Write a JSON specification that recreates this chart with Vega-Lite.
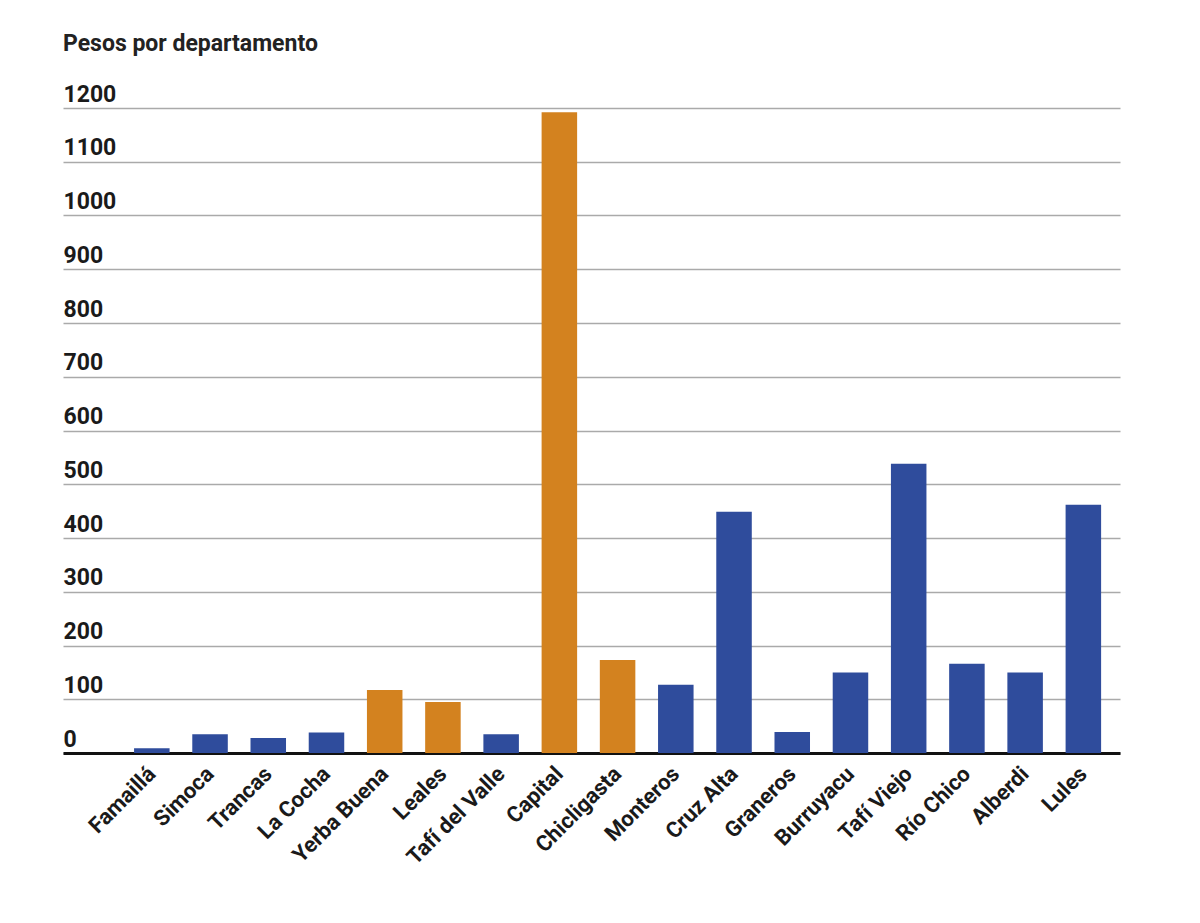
{
  "$schema": "https://vega.github.io/schema/vega-lite/v6.json",
  "autosize": {"type": "none"},
  "padding": {"left": 63, "top": 108, "right": 80, "bottom": 170},
  "width": 1057,
  "height": 645,
  "background": "white",
  "title": {
    "text": "Pesos por departamento",
    "anchor": "start",
    "frame": "group",
    "font": "Roboto",
    "fontSize": 23,
    "fontWeight": "bold",
    "color": "#222222",
    "offset": 27
  },
  "data": {
    "values": [
      {"departamento": "Famaillá", "pesos": 9, "grupo": "b"},
      {"departamento": "Simoca", "pesos": 35, "grupo": "b"},
      {"departamento": "Trancas", "pesos": 28, "grupo": "b"},
      {"departamento": "La Cocha", "pesos": 38, "grupo": "b"},
      {"departamento": "Yerba Buena", "pesos": 117, "grupo": "a"},
      {"departamento": "Leales", "pesos": 95, "grupo": "a"},
      {"departamento": "Tafí del Valle", "pesos": 35, "grupo": "b"},
      {"departamento": "Capital", "pesos": 1192, "grupo": "a"},
      {"departamento": "Chicligasta", "pesos": 173, "grupo": "a"},
      {"departamento": "Monteros", "pesos": 127, "grupo": "b"},
      {"departamento": "Cruz Alta", "pesos": 449, "grupo": "b"},
      {"departamento": "Graneros", "pesos": 39, "grupo": "b"},
      {"departamento": "Burruyacu", "pesos": 150, "grupo": "b"},
      {"departamento": "Tafí Viejo", "pesos": 538, "grupo": "b"},
      {"departamento": "Río Chico", "pesos": 166, "grupo": "b"},
      {"departamento": "Alberdi", "pesos": 150, "grupo": "b"},
      {"departamento": "Lules", "pesos": 462, "grupo": "b"}
    ]
  },
  "mark": {"type": "bar"},
  "encoding": {
    "x": {
      "field": "departamento",
      "type": "nominal",
      "sort": null,
      "scale": {"paddingInner": 0.39, "paddingOuter": 0.7725, "align": 0.79},
      "axis": {
        "title": null,
        "labelAngle": -45,
        "labelAlign": "right",
        "labelBaseline": "middle",
        "labelFont": "Roboto",
        "labelFontSize": 22,
        "labelFontWeight": "bold",
        "labelColor": "#1a1a1a",
        "labelPadding": 17,
        "labelOverlap": false,
        "ticks": false,
        "domainColor": "#111111",
        "domainWidth": 3,
        "grid": false
      }
    },
    "y": {
      "field": "pesos",
      "type": "quantitative",
      "scale": {"domain": [0, 1200], "nice": false},
      "axis": {
        "title": null,
        "format": "d",
        "values": [0, 100, 200, 300, 400, 500, 600, 700, 800, 900, 1000, 1100, 1200],
        "labelAlign": "left",
        "labelBaseline": "alphabetic",
        "labelOffset": -7,
        "labelPadding": 0,
        "ticks": false,
        "domain": false,
        "labelFont": "Roboto",
        "labelFontSize": 23,
        "labelFontWeight": "bold",
        "labelColor": "#1a1a1a",
        "gridColor": "#aaaaaa",
        "gridWidth": 1.5,
        "gridOpacity": 1
      }
    },
    "color": {
      "field": "grupo",
      "type": "nominal",
      "scale": {"domain": ["a", "b"], "range": ["#D3821F", "#2F4C9C"]},
      "legend": null
    }
  },
  "config": {"view": {"stroke": null}}
}
